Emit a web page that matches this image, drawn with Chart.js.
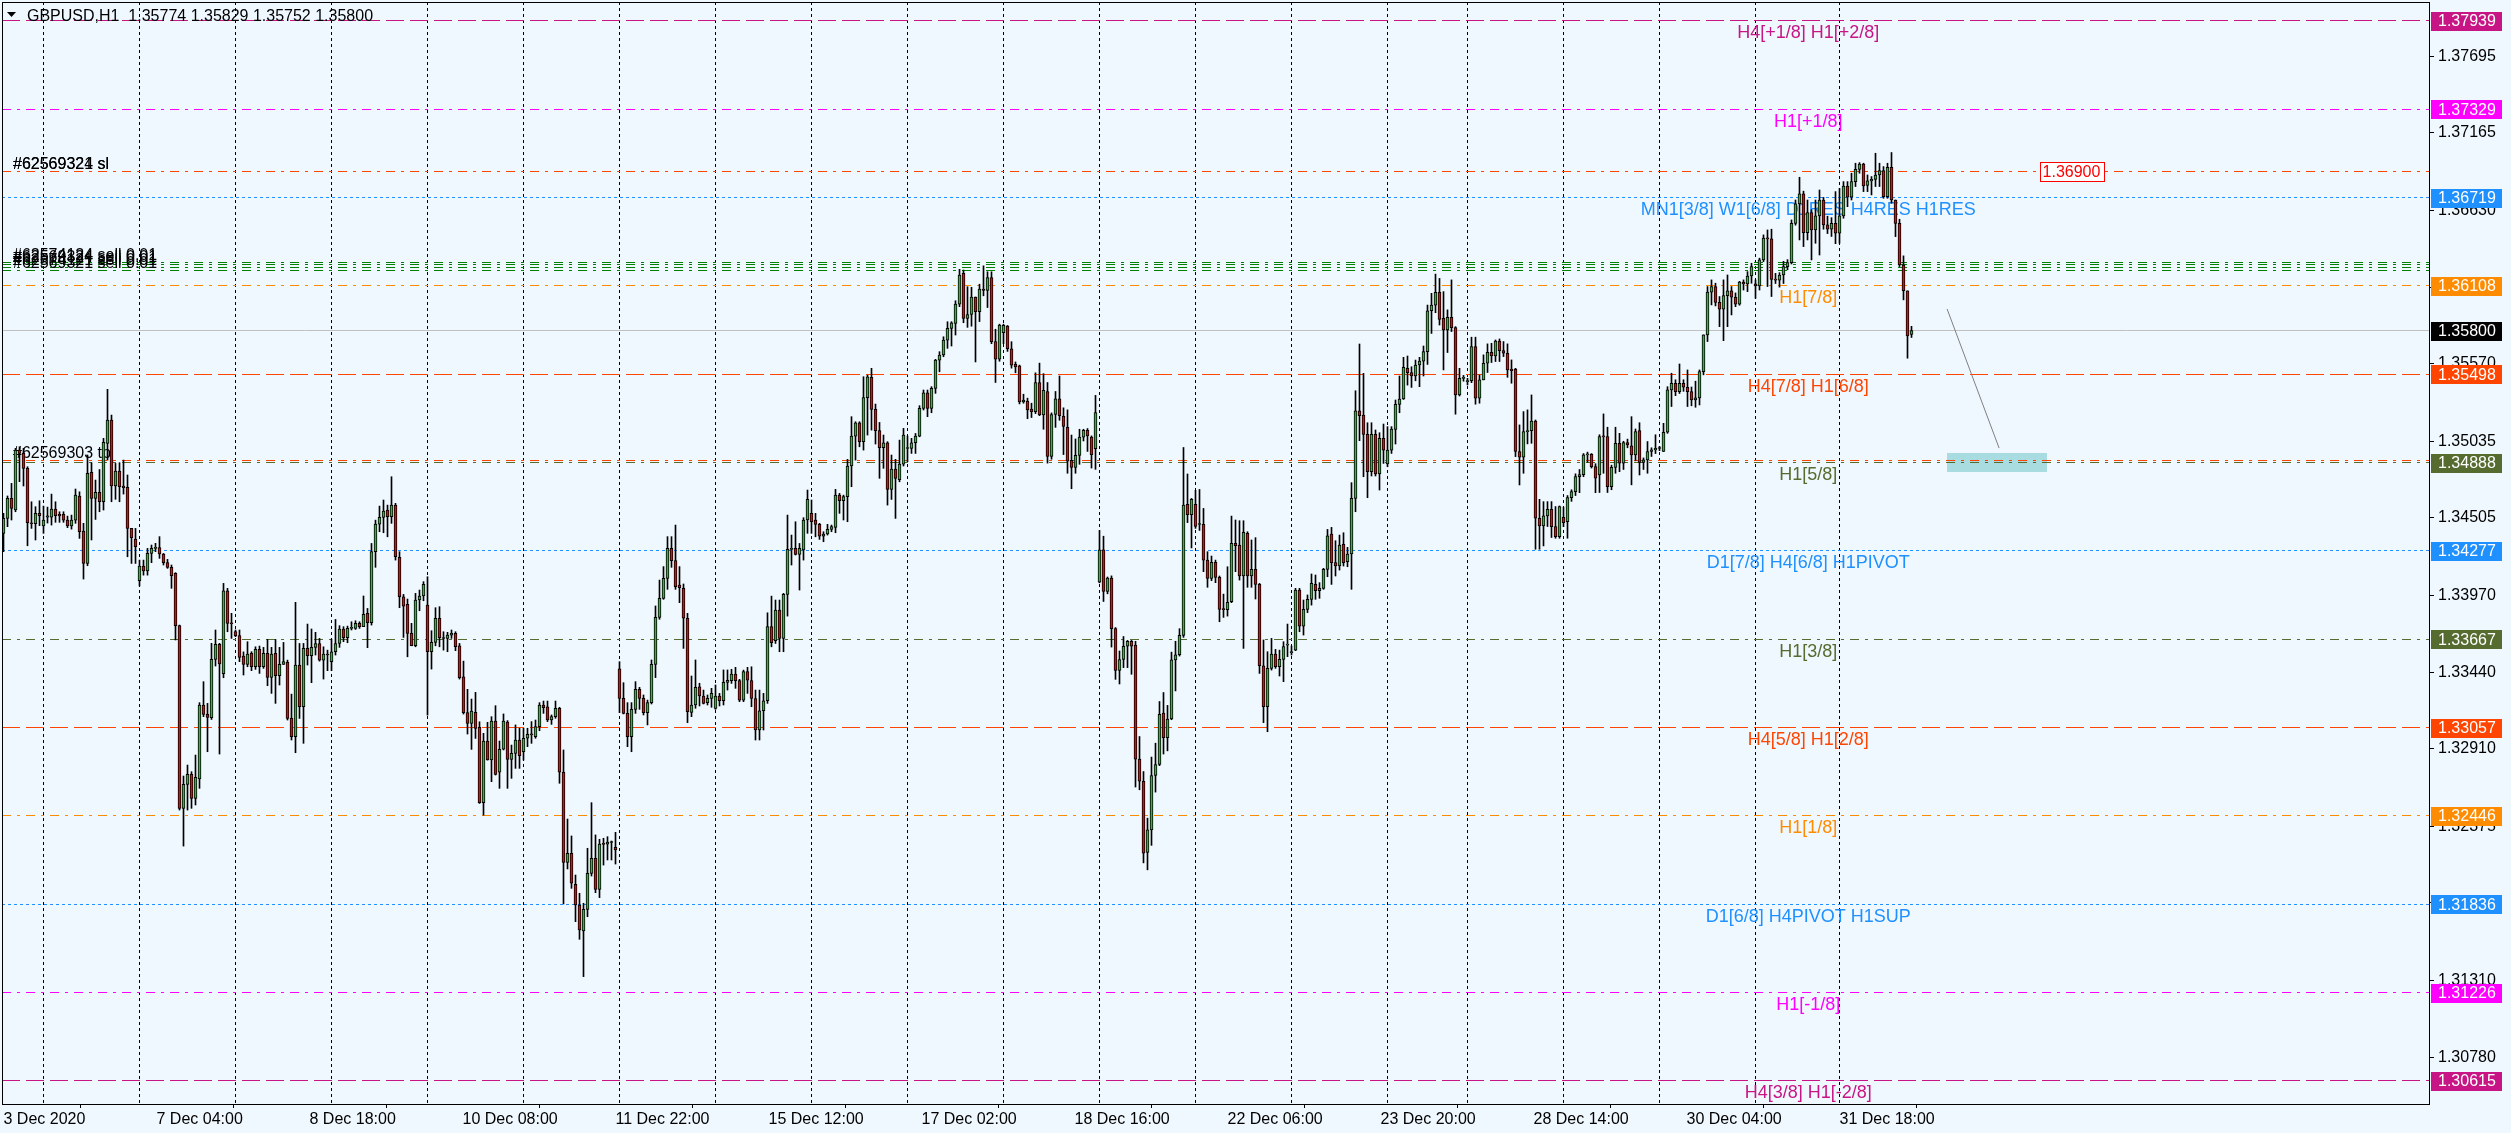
<!DOCTYPE html>
<html><head><meta charset="utf-8">
<script src="https://cdn.jsdelivr.net/npm/chart.js@4.4.1/dist/chart.umd.min.js"></script>
<style>html,body{margin:0;padding:0;background:#F0F8FF;overflow:hidden}canvas{display:block}</style>
</head><body>
<canvas id="c" width="2511" height="1133" style="width:2511px;height:1133px"></canvas>
<script>
// ---------- DATA (GBPUSD H1, bar index 0..477) ----------
const openP=[1.34399,1.34502,1.34640,1.34560,1.34974,1.34951,1.34848,1.34472,1.34465,1.34537,
1.34450,1.34510,1.34510,1.34567,1.34530,1.34530,1.34490,1.34450,1.34490,1.34657,
1.34415,1.34191,1.34820,1.34640,1.34682,1.34617,1.35020,1.35182,1.34726,1.34829,
1.34726,1.34716,1.34433,1.34360,1.34072,1.34173,1.34140,1.34260,1.34295,1.34300,
1.34256,1.34196,1.34164,1.34122,1.33761,1.32499,1.32664,1.32733,1.32568,1.32702,
1.33213,1.33148,1.33125,1.33528,1.33632,1.33430,1.34002,1.33777,1.33720,1.33692,
1.33550,1.33494,1.33569,1.33477,1.33597,1.33477,1.33569,1.33404,1.33569,1.33415,
1.33493,1.33507,1.33120,1.32994,1.33489,1.33201,1.33604,1.33553,1.33611,1.33638,
1.33523,1.33565,1.33512,1.33581,1.33638,1.33738,1.33678,1.33742,1.33742,1.33777,
1.33754,1.33846,1.33781,1.34272,1.34463,1.34509,1.34560,1.34514,1.34594,1.34233,
1.33961,1.33908,1.33708,1.33622,1.33938,1.33966,1.33903,1.33581,1.33645,1.33811,
1.33678,1.33673,1.33696,1.33708,1.33622,1.33408,1.33160,1.33086,1.33162,1.33058,
1.32538,1.32964,1.32833,1.33102,1.32748,1.32907,1.33095,1.32837,1.32879,1.32971,
1.32890,1.32983,1.33010,1.32994,1.33063,1.33213,1.33200,1.33109,1.33132,1.33190,
1.32748,1.32126,1.32188,1.31974,1.31831,1.31651,1.31801,1.32050,1.32153,1.31939,
1.32252,1.32252,1.32266,1.32230,1.33462,1.33259,1.33155,1.32994,1.33183,1.33321,
1.33259,1.33160,1.33229,1.33494,1.33818,1.33950,1.34088,1.34295,1.34210,1.34042,
1.34019,1.33812,1.33162,1.33213,1.33339,1.33275,1.33229,1.33259,1.33190,1.33275,
1.33243,1.33369,1.33381,1.33427,1.33381,1.33247,1.33443,1.33381,1.33258,1.33040,
1.33173,1.33242,1.33754,1.33657,1.33869,1.33673,1.33977,1.34288,1.34295,1.34254,
1.34284,1.34491,1.34537,1.34491,1.34461,1.34380,1.34394,1.34426,1.34440,1.34663,
1.34624,1.34652,1.34864,1.35071,1.35163,1.35032,1.35336,1.35476,1.35255,1.35108,
1.34991,1.35025,1.34703,1.34843,1.34770,1.34877,1.34985,1.34985,1.35025,1.35071,
1.35262,1.35370,1.35262,1.35400,1.35596,1.35631,1.35734,1.35815,1.35850,1.35983,
1.36195,1.35884,1.35911,1.36032,1.35930,1.36086,1.36078,1.36166,1.35723,1.35602,
1.35785,1.35830,1.35674,1.35567,1.35556,1.35306,1.35312,1.35258,1.35239,1.35441,
1.35217,1.35379,1.34930,1.35220,1.35328,1.35207,1.35131,1.34903,1.34855,1.34938,
1.35064,1.35110,1.35064,1.34984,1.34062,1.34285,1.33998,1.34089,1.33740,1.33452,
1.33527,1.33619,1.33653,1.33626,1.32839,1.32686,1.32194,1.32350,1.32726,1.32802,
1.33157,1.32987,1.33116,1.33525,1.33560,1.33694,1.34599,1.34527,1.34599,1.34460,
1.34461,1.34214,1.34088,1.34198,1.34095,1.33874,1.33872,1.33926,1.34330,1.34318,
1.34104,1.34399,1.34104,1.34150,1.34046,1.33484,1.33201,1.33466,1.33565,1.33477,
1.33528,1.33627,1.33575,1.33592,1.34007,1.33758,1.33874,1.33943,1.34046,1.34002,
1.34019,1.34150,1.34394,1.34196,1.34173,1.34323,1.34203,1.34256,1.34640,1.35246,
1.35216,1.35083,1.34825,1.35083,1.34809,1.35055,1.34878,1.34974,1.35117,1.35290,
1.35327,1.35539,1.35509,1.35486,1.35562,1.35589,1.35654,1.35937,1.35976,1.36064,
1.35885,1.35804,1.35892,1.35820,1.35355,1.35470,1.35447,1.35454,1.35689,1.35332,
1.35459,1.35574,1.35650,1.35625,1.35728,1.35661,1.35643,1.35533,1.35533,1.34964,
1.34925,1.35102,1.35109,1.35175,1.34503,1.34450,1.34519,1.34565,1.34445,1.34376,
1.34510,1.34480,1.34646,1.34687,1.34791,1.34805,1.34941,1.34945,1.34860,1.34802,
1.35067,1.35067,1.34722,1.34855,1.35021,1.34883,1.35026,1.35003,1.34941,1.35109,
1.34888,1.34906,1.34964,1.34975,1.34987,1.34964,1.35097,1.35390,1.35436,1.35378,
1.35436,1.35408,1.35378,1.35321,1.35335,1.35516,1.35770,1.36065,1.36104,1.35995,
1.35947,1.36041,1.36074,1.36030,1.35982,1.36134,1.36122,1.36177,1.36122,1.36108,
1.36288,1.36438,1.36433,1.36154,1.36148,1.36184,1.36242,1.36269,1.36541,1.36675,
1.36744,1.36477,1.36615,1.36495,1.36592,1.36702,1.36530,1.36500,1.36541,1.36472,
1.36592,1.36799,1.36721,1.36829,1.36914,1.36951,1.36802,1.36834,1.36845,1.36875,
1.36905,1.36725,1.36928,1.36702,1.36541,1.36253,1.36074,1.35774];
const highP=[1.34537,1.34657,1.34744,1.34986,1.34997,1.34986,1.34859,1.34617,1.34583,1.34624,
1.34587,1.34580,1.34670,1.34617,1.34548,1.34548,1.34518,1.34525,1.34705,1.34686,
1.34468,1.34940,1.34887,1.34767,1.34840,1.35055,1.35394,1.35216,1.34882,1.34887,
1.34905,1.34802,1.34433,1.34433,1.34214,1.34214,1.34295,1.34318,1.34330,1.34376,
1.34260,1.34219,1.34180,1.34127,1.33765,1.32722,1.32798,1.32752,1.32867,1.33229,
1.33374,1.33224,1.33639,1.33731,1.33639,1.34053,1.34019,1.33846,1.33731,1.33731,
1.33580,1.33650,1.33581,1.33615,1.33620,1.33611,1.33666,1.33611,1.33666,1.33611,
1.33645,1.33523,1.33288,1.33922,1.33638,1.33638,1.33772,1.33738,1.33715,1.33673,
1.33615,1.33592,1.33668,1.33804,1.33761,1.33754,1.33758,1.33788,1.33795,1.33788,
1.33966,1.33880,1.34329,1.34490,1.34587,1.34629,1.34594,1.34790,1.34606,1.34272,
1.33977,1.33945,1.33777,1.33984,1.34007,1.34065,1.34099,1.33726,1.33885,1.33892,
1.33719,1.33715,1.33731,1.33719,1.33638,1.33516,1.33321,1.33254,1.33300,1.33097,
1.33017,1.33093,1.33132,1.33208,1.32964,1.33151,1.33105,1.32936,1.33075,1.33052,
1.33052,1.33052,1.33098,1.33109,1.33229,1.33240,1.33240,1.33144,1.33240,1.33197,
1.32902,1.32425,1.32308,1.32038,1.31912,1.31843,1.32223,1.32538,1.32315,1.32285,
1.32292,1.32303,1.32273,1.32333,1.33512,1.33367,1.33229,1.33229,1.33374,1.33335,
1.33282,1.33247,1.33524,1.33897,1.34076,1.34169,1.34376,1.34376,1.34456,1.34169,
1.34049,1.33846,1.33413,1.33524,1.33363,1.33316,1.33282,1.33328,1.33351,1.33293,
1.33455,1.33455,1.33459,1.33473,1.33390,1.33454,1.33473,1.33477,1.33316,1.33316,
1.33293,1.33850,1.33965,1.33938,1.33938,1.33984,1.34525,1.34387,1.34479,1.34329,
1.34507,1.34698,1.34629,1.34537,1.34468,1.34410,1.34461,1.34456,1.34703,1.34675,
1.34663,1.34910,1.35205,1.35170,1.35170,1.35481,1.35492,1.35539,1.35292,1.35165,
1.35078,1.35032,1.34940,1.34910,1.35043,1.35124,1.35071,1.35055,1.35089,1.35281,
1.35389,1.35389,1.35412,1.35601,1.35654,1.35757,1.35861,1.35861,1.36006,1.36223,
1.36218,1.36103,1.36099,1.36032,1.36120,1.36247,1.36206,1.36206,1.35809,1.35844,
1.35844,1.35835,1.35723,1.35583,1.35561,1.35360,1.35333,1.35298,1.35508,1.35575,
1.35502,1.35441,1.35231,1.35379,1.35486,1.35266,1.35252,1.35078,1.35051,1.35118,
1.35118,1.35123,1.35072,1.35352,1.34419,1.34379,1.34097,1.34105,1.33748,1.33586,
1.33686,1.33659,1.33659,1.33653,1.32995,1.32753,1.32431,1.32853,1.32949,1.33237,
1.33299,1.33210,1.33578,1.33653,1.33740,1.34992,1.34809,1.34640,1.34696,1.34702,
1.34571,1.34272,1.34242,1.34214,1.34104,1.33979,1.34168,1.34518,1.34491,1.34486,
1.34486,1.34410,1.34353,1.34369,1.34053,1.33662,1.33581,1.33673,1.33597,1.33592,
1.33650,1.33772,1.33620,1.34019,1.34019,1.33938,1.33973,1.34118,1.34111,1.34058,
1.34157,1.34426,1.34440,1.34348,1.34387,1.34403,1.34302,1.34749,1.35384,1.35707,
1.35504,1.35163,1.35163,1.35113,1.35094,1.35154,1.35136,1.35136,1.35320,1.35486,
1.35615,1.35624,1.35550,1.35596,1.35615,1.35693,1.35976,1.36057,1.36190,1.36160,
1.36069,1.35943,1.36150,1.35827,1.35539,1.35490,1.35470,1.35754,1.35754,1.35493,
1.35632,1.35708,1.35712,1.35735,1.35742,1.35724,1.35708,1.35597,1.35539,1.35148,
1.35240,1.35252,1.35355,1.35182,1.34634,1.34618,1.34618,1.34618,1.34584,1.34588,
1.34580,1.34660,1.34700,1.34810,1.34840,1.34950,1.34960,1.34950,1.34880,1.35080,
1.35224,1.35132,1.34870,1.35132,1.35090,1.35035,1.35050,1.35205,1.35120,1.35163,
1.34920,1.35033,1.34990,1.35080,1.35000,1.35159,1.35412,1.35505,1.35460,1.35569,
1.35460,1.35528,1.35410,1.35450,1.35528,1.35770,1.36104,1.36150,1.36127,1.36035,
1.36150,1.36184,1.36104,1.36060,1.36140,1.36150,1.36207,1.36265,1.36150,1.36300,
1.36461,1.36495,1.36500,1.36195,1.36200,1.36278,1.36290,1.36564,1.36702,1.36859,
1.36763,1.36702,1.36635,1.36702,1.36771,1.36720,1.36590,1.36580,1.36760,1.36782,
1.36829,1.36829,1.36887,1.36956,1.36960,1.36956,1.36875,1.36864,1.37025,1.36956,
1.36933,1.36956,1.37030,1.36702,1.36569,1.36316,1.36074,1.35829];
const lowP=[1.34272,1.34445,1.34491,1.34548,1.34756,1.34726,1.34313,1.34433,1.34353,1.34452,
1.34399,1.34470,1.34456,1.34475,1.34475,1.34475,1.34438,1.34428,1.34468,1.34364,
1.34083,1.34175,1.34353,1.34495,1.34548,1.34560,1.34905,1.34617,1.34634,1.34617,
1.34670,1.34237,1.34191,1.34191,1.34035,1.34110,1.34110,1.34196,1.34272,1.34226,
1.34180,1.34157,1.34019,1.33662,1.32487,1.32238,1.32487,1.32499,1.32522,1.32637,
1.33132,1.32890,1.33113,1.33482,1.32874,1.33401,1.33719,1.33673,1.33685,1.33512,
1.33420,1.33477,1.33450,1.33459,1.33431,1.33466,1.33346,1.33293,1.33224,1.33351,
1.33493,1.33109,1.32971,1.32883,1.33120,1.32948,1.33489,1.33367,1.33558,1.33516,
1.33392,1.33450,1.33450,1.33558,1.33611,1.33650,1.33643,1.33731,1.33735,1.33742,
1.33754,1.33609,1.33765,1.34164,1.34410,1.34403,1.34375,1.34468,1.34214,1.33885,
1.33680,1.33546,1.33622,1.33615,1.33864,1.33933,1.33143,1.33461,1.33622,1.33615,
1.33592,1.33581,1.33673,1.33588,1.33392,1.33150,1.33012,1.32906,1.32982,1.32533,
1.32452,1.32832,1.32683,1.32729,1.32637,1.32902,1.32637,1.32706,1.32775,1.32775,
1.32833,1.32925,1.32948,1.32983,1.33035,1.33155,1.33098,1.33079,1.33121,1.32672,
1.31838,1.32080,1.31946,1.31716,1.31594,1.31336,1.31750,1.32031,1.31916,1.31882,
1.32107,1.32142,1.32142,1.32114,1.33160,1.33151,1.32925,1.32890,1.33155,1.33183,
1.33144,1.33075,1.33220,1.33402,1.33805,1.33943,1.34012,1.34164,1.34012,1.33920,
1.33604,1.33091,1.33132,1.33190,1.33206,1.33220,1.33213,1.33197,1.33183,1.33206,
1.33213,1.33316,1.33362,1.33328,1.33236,1.33236,1.33293,1.33201,1.32971,1.32971,
1.33040,1.33224,1.33615,1.33638,1.33581,1.33581,1.33827,1.34180,1.34249,1.34007,
1.34214,1.34399,1.34399,1.34375,1.34357,1.34341,1.34387,1.34410,1.34403,1.34537,
1.34491,1.34479,1.34721,1.34905,1.34997,1.34974,1.35078,1.35112,1.35016,1.34779,
1.34848,1.34594,1.34633,1.34502,1.34755,1.34864,1.34894,1.34951,1.34951,1.35066,
1.35251,1.35205,1.35232,1.35366,1.35515,1.35619,1.35677,1.35693,1.35769,1.35965,
1.35854,1.35822,1.35830,1.35583,1.35862,1.36040,1.35959,1.35709,1.35441,1.35588,
1.35709,1.35656,1.35540,1.35508,1.35293,1.35298,1.35191,1.35199,1.35226,1.35212,
1.35118,1.34884,1.34911,1.35131,1.35180,1.34943,1.34814,1.34707,1.34814,1.34876,
1.35037,1.34965,1.34850,1.34841,1.34057,1.33928,1.33981,1.33613,1.33390,1.33358,
1.33471,1.33471,1.33425,1.32646,1.32627,1.32122,1.32074,1.32243,1.32611,1.32794,
1.32874,1.32896,1.33111,1.33310,1.33551,1.33680,1.34473,1.34298,1.34433,1.34419,
1.34134,1.34026,1.34072,1.34058,1.33788,1.33818,1.33827,1.33920,1.34134,1.34076,
1.33604,1.34026,1.34026,1.33945,1.33431,1.33091,1.33028,1.33454,1.33466,1.33413,
1.33374,1.33547,1.33558,1.33588,1.33719,1.33696,1.33851,1.33903,1.33943,1.33950,
1.34012,1.34099,1.34046,1.34104,1.34145,1.34173,1.34168,1.34012,1.34548,1.35039,
1.34790,1.34645,1.34795,1.34795,1.34698,1.34882,1.34859,1.34951,1.35016,1.35232,
1.35324,1.35423,1.35407,1.35453,1.35412,1.35486,1.35566,1.35780,1.35923,1.35838,
1.35528,1.35648,1.35793,1.35222,1.35348,1.35450,1.35424,1.35440,1.35291,1.35298,
1.35459,1.35510,1.35579,1.35586,1.35586,1.35620,1.35477,1.35436,1.34929,1.34733,
1.34814,1.35017,1.35021,1.34289,1.34289,1.34312,1.34446,1.34370,1.34365,1.34365,
1.34445,1.34365,1.34620,1.34660,1.34680,1.34790,1.34890,1.34850,1.34680,1.34681,
1.34814,1.34681,1.34700,1.34814,1.34825,1.34840,1.34990,1.34734,1.34900,1.34802,
1.34840,1.34814,1.34930,1.34950,1.34970,1.34964,1.35090,1.35275,1.35350,1.35365,
1.35380,1.35275,1.35280,1.35270,1.35286,1.35494,1.35724,1.35977,1.35970,1.35827,
1.35730,1.35827,1.35908,1.35965,1.35975,1.36080,1.36069,1.36127,1.36023,1.36080,
1.36276,1.36104,1.36035,1.36125,1.36100,1.36125,1.36220,1.36260,1.36528,1.36426,
1.36380,1.36426,1.36288,1.36403,1.36322,1.36500,1.36470,1.36450,1.36400,1.36403,
1.36576,1.36656,1.36702,1.36795,1.36887,1.36760,1.36760,1.36737,1.36795,1.36795,
1.36714,1.36714,1.36680,1.36449,1.36242,1.36012,1.35609,1.35752];
const closeP=[1.34502,1.34640,1.34571,1.34974,1.34951,1.34848,1.34472,1.34465,1.34537,1.34521,
1.34490,1.34520,1.34567,1.34521,1.34520,1.34490,1.34450,1.34490,1.34663,1.34410,
1.34191,1.34813,1.34640,1.34682,1.34617,1.35027,1.35182,1.34726,1.34829,1.34721,
1.34714,1.34433,1.34369,1.34307,1.34173,1.34140,1.34260,1.34295,1.34298,1.34256,
1.34196,1.34164,1.34106,1.33761,1.32499,1.32664,1.32733,1.32568,1.32713,1.33213,
1.33148,1.33127,1.33528,1.33632,1.33496,1.34002,1.33777,1.33774,1.33692,1.33542,
1.33494,1.33565,1.33477,1.33597,1.33477,1.33569,1.33404,1.33565,1.33415,1.33493,
1.33512,1.33120,1.32994,1.33489,1.33201,1.33604,1.33553,1.33611,1.33638,1.33523,
1.33565,1.33558,1.33581,1.33638,1.33738,1.33678,1.33742,1.33747,1.33777,1.33754,
1.33839,1.33781,1.34272,1.34463,1.34509,1.34553,1.34514,1.34594,1.34237,1.33961,
1.33896,1.33708,1.33622,1.33938,1.33966,1.34046,1.33581,1.33645,1.33811,1.33678,
1.33672,1.33696,1.33708,1.33615,1.33401,1.33160,1.33086,1.33171,1.33051,1.32538,
1.32964,1.32833,1.33102,1.32734,1.32907,1.33102,1.32837,1.32879,1.32971,1.32863,
1.32983,1.33010,1.33006,1.33063,1.33213,1.33195,1.33109,1.33132,1.33190,1.32748,
1.32126,1.32188,1.31981,1.31831,1.31658,1.31801,1.32050,1.32153,1.31939,1.32252,
1.32250,1.32266,1.32263,1.32211,1.33259,1.33155,1.32994,1.33183,1.33321,1.33259,
1.33160,1.33229,1.33494,1.33818,1.33950,1.34088,1.34295,1.34210,1.34030,1.34024,
1.33812,1.33167,1.33213,1.33335,1.33275,1.33224,1.33259,1.33293,1.33275,1.33243,
1.33369,1.33383,1.33427,1.33381,1.33247,1.33443,1.33385,1.33258,1.33040,1.33173,
1.33242,1.33754,1.33643,1.33869,1.33673,1.33977,1.34288,1.34295,1.34254,1.34295,
1.34491,1.34633,1.34479,1.34461,1.34380,1.34394,1.34426,1.34445,1.34663,1.34624,
1.34652,1.34864,1.35071,1.35163,1.35032,1.35336,1.35481,1.35255,1.35108,1.34991,
1.35025,1.34703,1.34843,1.34779,1.34877,1.35078,1.34985,1.35025,1.35071,1.35262,
1.35370,1.35262,1.35400,1.35596,1.35631,1.35734,1.35815,1.35854,1.35983,1.36183,
1.35884,1.35911,1.36032,1.35930,1.36086,1.36078,1.36166,1.35723,1.35602,1.35838,
1.35836,1.35674,1.35561,1.35548,1.35306,1.35320,1.35252,1.35239,1.35441,1.35217,
1.35387,1.34930,1.35220,1.35328,1.35212,1.35137,1.34898,1.34855,1.34938,1.35064,
1.35110,1.35072,1.34943,1.35234,1.34285,1.33998,1.34089,1.33740,1.33452,1.33527,
1.33619,1.33653,1.33619,1.32839,1.32686,1.32189,1.32350,1.32726,1.32802,1.33148,
1.32987,1.33116,1.33525,1.33560,1.33694,1.34594,1.34527,1.34634,1.34446,1.34460,
1.34214,1.34088,1.34198,1.34095,1.33874,1.33872,1.33922,1.34330,1.34313,1.34104,
1.34406,1.34104,1.34150,1.34046,1.33484,1.33201,1.33466,1.33565,1.33477,1.33528,
1.33616,1.33627,1.33575,1.34007,1.33758,1.33874,1.33943,1.34053,1.34002,1.34019,
1.34150,1.34382,1.34196,1.34173,1.34318,1.34196,1.34256,1.34640,1.35246,1.35212,
1.35083,1.34825,1.35083,1.34809,1.35055,1.34974,1.34974,1.35119,1.35290,1.35327,
1.35546,1.35509,1.35486,1.35562,1.35589,1.35654,1.35937,1.35976,1.36064,1.35877,
1.35804,1.35892,1.35820,1.35355,1.35470,1.35472,1.35449,1.35689,1.35332,1.35459,
1.35574,1.35650,1.35625,1.35728,1.35661,1.35643,1.35528,1.35523,1.34964,1.34925,
1.35102,1.35109,1.35175,1.34503,1.34450,1.34519,1.34565,1.34445,1.34376,1.34584,
1.34473,1.34646,1.34687,1.34791,1.34805,1.34941,1.34945,1.34860,1.34780,1.35067,
1.35065,1.34722,1.34855,1.35021,1.34883,1.35026,1.35010,1.34941,1.35102,1.34888,
1.34906,1.34964,1.34975,1.34987,1.34985,1.35097,1.35390,1.35436,1.35378,1.35436,
1.35408,1.35378,1.35321,1.35335,1.35516,1.35770,1.36065,1.36104,1.35995,1.35947,
1.36041,1.36074,1.36030,1.35982,1.36134,1.36122,1.36177,1.36242,1.36108,1.36288,
1.36438,1.36433,1.36154,1.36148,1.36184,1.36242,1.36269,1.36541,1.36675,1.36744,
1.36477,1.36615,1.36495,1.36592,1.36702,1.36530,1.36500,1.36541,1.36472,1.36592,
1.36799,1.36721,1.36829,1.36914,1.36951,1.36799,1.36834,1.36845,1.36875,1.36905,
1.36725,1.36928,1.36702,1.36541,1.36253,1.36076,1.35763,1.35800];

const symbolName = "GBPUSD,H1";
const xLabels = ["3 Dec 2020","7 Dec 04:00","8 Dec 18:00","10 Dec 08:00","11 Dec 22:00","15 Dec 12:00","17 Dec 02:00","18 Dec 16:00","22 Dec 06:00","23 Dec 20:00","28 Dec 14:00","30 Dec 04:00","31 Dec 18:00"];
const xLabelBars = [0,38.25,76.5,114.75,153,191.25,229.5,267.75,306,344.25,382.5,420.75,459];
const separatorBars = [10,34,58,82,106,130,154,178,202,226,250,274,298,322,346,366,390,414,438,459];
const yTicks = [1.37695,1.37165,1.36630,1.36100,1.35570,1.35035,1.34505,1.33970,1.33440,1.32910,1.32375,1.31845,1.31310,1.30780];

const levelPrices = [1.37939,1.37329,1.36719,1.36108,1.35498,1.34888,1.34277,1.33667,1.33057,1.32446,1.31836,1.31226,1.30615];
const levelLabels = ["H4[+1/8] H1[+2/8]","H1[+1/8]","MN1[3/8] W1[6/8] D1RES H4RES H1RES","H1[7/8]","H4[7/8] H1[6/8]","H1[5/8]","D1[7/8] H4[6/8] H1PIVOT","H1[3/8]","H4[5/8] H1[2/8]","H1[1/8]","D1[6/8] H4PIVOT H1SUP","H1[-1/8]","H4[3/8] H1[-2/8]"];
const levelLabelBar = 451.2;

const orderPrices = [1.36900,1.36900,1.36270,1.36254,1.36236,1.36218,1.34900];
const orderLabels = ["#62569321 sl","#62569324 sl","#62574124 sell 0.01","#62569324 sell 0.01","#62574121 sell 0.01","#62569321 sell 0.01","#62569303 tp"];
const priceTag = {price:1.36900, bar:517, text:"1.36900"};

const trendBars = [485.9, 498.9];
const trendPrices = [1.35949, 1.34988];
const zoneBars = [485.9, 510.9];
const zonePrices = [1.34954, 1.34823];

// ---------- STYLES ----------
const FONT = "'Liberation Sans', Arial, sans-serif";
const BG = '#F0F8FF';
const UP = '#3CB043', DOWN = '#D01414';
const levelColors = ['#C71585','#FF00FF','#1E90FF','#FF8C00','#FF4500','#556B2F','#1E90FF','#556B2F','#FF4500','#FF8C00','#1E90FF','#FF00FF','#C71585'];
const levelStyles = ['dash','dashdot','dot','dashdot','dash','dashdot','dot','dashdot','dash','dashdot','dot','dashdot','dash'];
const orderColors = ['#FF4500','#FF4500','#008000','#008000','#008000','#008000','#FF4500'];
const DASH = {dash:[18,6], dashdot:[9,6,3,6], dot:[3,3], solid:[]};

const lastI = closeP.length-1;
const bodies = openP.map((o,i)=>({x:i, y:[o, closeP[i]]}));
const wicks = highP.map((h,i)=>({x:i, y:[lowP[i], h]}));
const bodyColors = openP.map((o,i)=> closeP[i] >= o ? UP : DOWN);

const pxY = (s,p)=>Math.floor(s.getPixelForValue(p))+0.5;

const bgPlugin = {id:'bg', beforeDraw(chart){const c=chart.ctx;c.save();c.fillStyle=BG;c.fillRect(0,0,chart.width,chart.height);c.restore();}};

const objPlugin = {
  id:'objs',
  beforeDatasetsDraw(chart){
    const {ctx, chartArea:a, scales:{x,y}} = chart;
    ctx.save();
    ctx.beginPath(); ctx.rect(a.left,a.top,a.right-a.left,a.bottom-a.top); ctx.clip();
    ctx.lineWidth = 1;
    ctx.strokeStyle = '#000'; ctx.setLineDash([3,3]);
    separatorBars.forEach(b=>{const px=Math.round(x.getPixelForValue(b)-0.5)+0.5;ctx.beginPath();ctx.moveTo(px,a.top);ctx.lineTo(px,a.bottom);ctx.stroke();});
    const zx0=x.getPixelForValue(zoneBars[0]), zx1=x.getPixelForValue(zoneBars[1]);
    const zy0=y.getPixelForValue(zonePrices[0]), zy1=y.getPixelForValue(zonePrices[1]);
    ctx.fillStyle='#A8DCE0'; ctx.fillRect(Math.round(zx0),Math.round(zy0),Math.round(zx1-zx0),Math.round(zy1-zy0));
    levelPrices.forEach((p,k)=>{const py=pxY(y,p);ctx.strokeStyle=levelColors[k];ctx.setLineDash(DASH[levelStyles[k]]);ctx.beginPath();ctx.moveTo(a.left,py);ctx.lineTo(a.right,py);ctx.stroke();});
    orderPrices.forEach((p,k)=>{const py=pxY(y,p);ctx.strokeStyle=orderColors[k];ctx.setLineDash(DASH.dashdot);ctx.beginPath();ctx.moveTo(a.left,py);ctx.lineTo(a.right,py);ctx.stroke();});
    ctx.setLineDash([]); ctx.strokeStyle='#C0C0C0';
    const by=pxY(y,closeP[lastI]); ctx.beginPath(); ctx.moveTo(a.left,by); ctx.lineTo(a.right,by); ctx.stroke();
    ctx.font = '18px '+FONT; ctx.textAlign='center'; ctx.textBaseline='alphabetic';
    const lx = x.getPixelForValue(levelLabelBar);
    levelPrices.forEach((p,k)=>{ctx.fillStyle=levelColors[k];ctx.fillText(levelLabels[k],lx,y.getPixelForValue(p)+17.5);});
    ctx.font = '16px '+FONT; ctx.textAlign='left'; ctx.fillStyle='#000';
    orderPrices.forEach((p,k)=>{ctx.fillText(orderLabels[k],13,y.getPixelForValue(p)-2.5);});
    const tx=x.getPixelForValue(priceTag.bar), ty=y.getPixelForValue(priceTag.price);
    ctx.font='16px '+FONT; const tw=ctx.measureText(priceTag.text).width;
    ctx.fillStyle='#FFFFFF'; ctx.fillRect(Math.round(tx-tw/2-3)+0.5,Math.round(ty-9)+0.5,Math.round(tw+6),19);
    ctx.strokeStyle='#FF0000'; ctx.strokeRect(Math.round(tx-tw/2-3)+0.5,Math.round(ty-9)+0.5,Math.round(tw+6),19);
    ctx.fillStyle='#FF0000'; ctx.textAlign='center'; ctx.textBaseline='middle'; ctx.fillText(priceTag.text,tx,ty+1);
    ctx.restore();
  },
  afterDraw(chart){
    const {ctx, chartArea:a, scales:{y}} = chart;
    ctx.save();
    ctx.strokeStyle='#000'; ctx.lineWidth=1; ctx.setLineDash([]);
    ctx.strokeRect(a.left+0.5, a.top+0.5, a.right-a.left-1, a.bottom-a.top);
    ctx.font='16px '+FONT; ctx.textBaseline='middle'; ctx.textAlign='left';
    const boxes = levelPrices.map((p,k)=>[p,levelColors[k]]).concat([[closeP[lastI],'#000000']]);
    boxes.forEach(([p,col])=>{const py=y.getPixelForValue(p);ctx.fillStyle=col;ctx.fillRect(a.right+1,Math.round(py-9),71,19);ctx.fillStyle='#FFFFFF';ctx.fillText(p.toFixed(5),a.right+8,py+1);});
    ctx.fillStyle='#000'; ctx.beginPath(); ctx.moveTo(7,12); ctx.lineTo(16,12); ctx.lineTo(11.5,17); ctx.closePath(); ctx.fill();
    ctx.font='16px '+FONT; ctx.textBaseline='alphabetic'; ctx.textAlign='left';
    const f=v=>v.toFixed(5);
    ctx.fillText(symbolName+'  '+f(openP[lastI])+' '+f(highP[lastI])+' '+f(lowP[lastI])+' '+f(closeP[lastI]),27,21);
    ctx.restore();
  }
};

new Chart(document.getElementById('c').getContext('2d'), {
  type:'bar',
  data:{datasets:[
    {type:'bar', data:wicks, backgroundColor:'#000', borderWidth:0, barThickness:1, grouped:false, order:3},
    {type:'bar', data:bodies, backgroundColor:bodyColors, borderColor:'#000', borderWidth:1, borderSkipped:false, barThickness:3, minBarLength:1, grouped:false, order:2},
    {type:'line', data:trendBars.map((b,i)=>({x:b,y:trendPrices[i]})), borderColor:'#808080', borderWidth:1, pointRadius:0, order:1}
  ]},
  options:{
    responsive:false, animation:false, devicePixelRatio:1,
    layout:{padding:{left:2,top:2,right:0,bottom:0}},
    plugins:{legend:{display:false}, tooltip:{enabled:false}},
    scales:{
      x:{type:'linear', min:-0.375, max:606.625, offset:false,
        afterBuildTicks:s=>{s.ticks=xLabelBars.map(v=>({value:v}));},
        afterFit:s=>{s.height=29; s.paddingLeft=0; s.paddingRight=0;},
        ticks:{autoSkip:false, maxRotation:0, align:'start', padding:2, color:'#000', font:{family:FONT,size:16}, callback:(v,i)=>xLabels[i]},
        grid:{drawOnChartArea:false, drawTicks:true, tickLength:4, color:'#000'},
        border:{display:false}
      },
      y:{position:'right', min:1.30456, max:1.38070,
        afterBuildTicks:s=>{s.ticks=yTicks.map(v=>({value:v}));},
        afterFit:s=>{s.width=81; s.paddingTop=0; s.paddingBottom=0;},
        ticks:{padding:4, color:'#000', font:{family:FONT,size:16}, callback:v=>v.toFixed(5)},
        grid:{drawOnChartArea:false, drawTicks:true, tickLength:4, color:'#000'},
        border:{display:false}
      }
    }
  },
  plugins:[bgPlugin, objPlugin]
});
</script>
</body></html>
